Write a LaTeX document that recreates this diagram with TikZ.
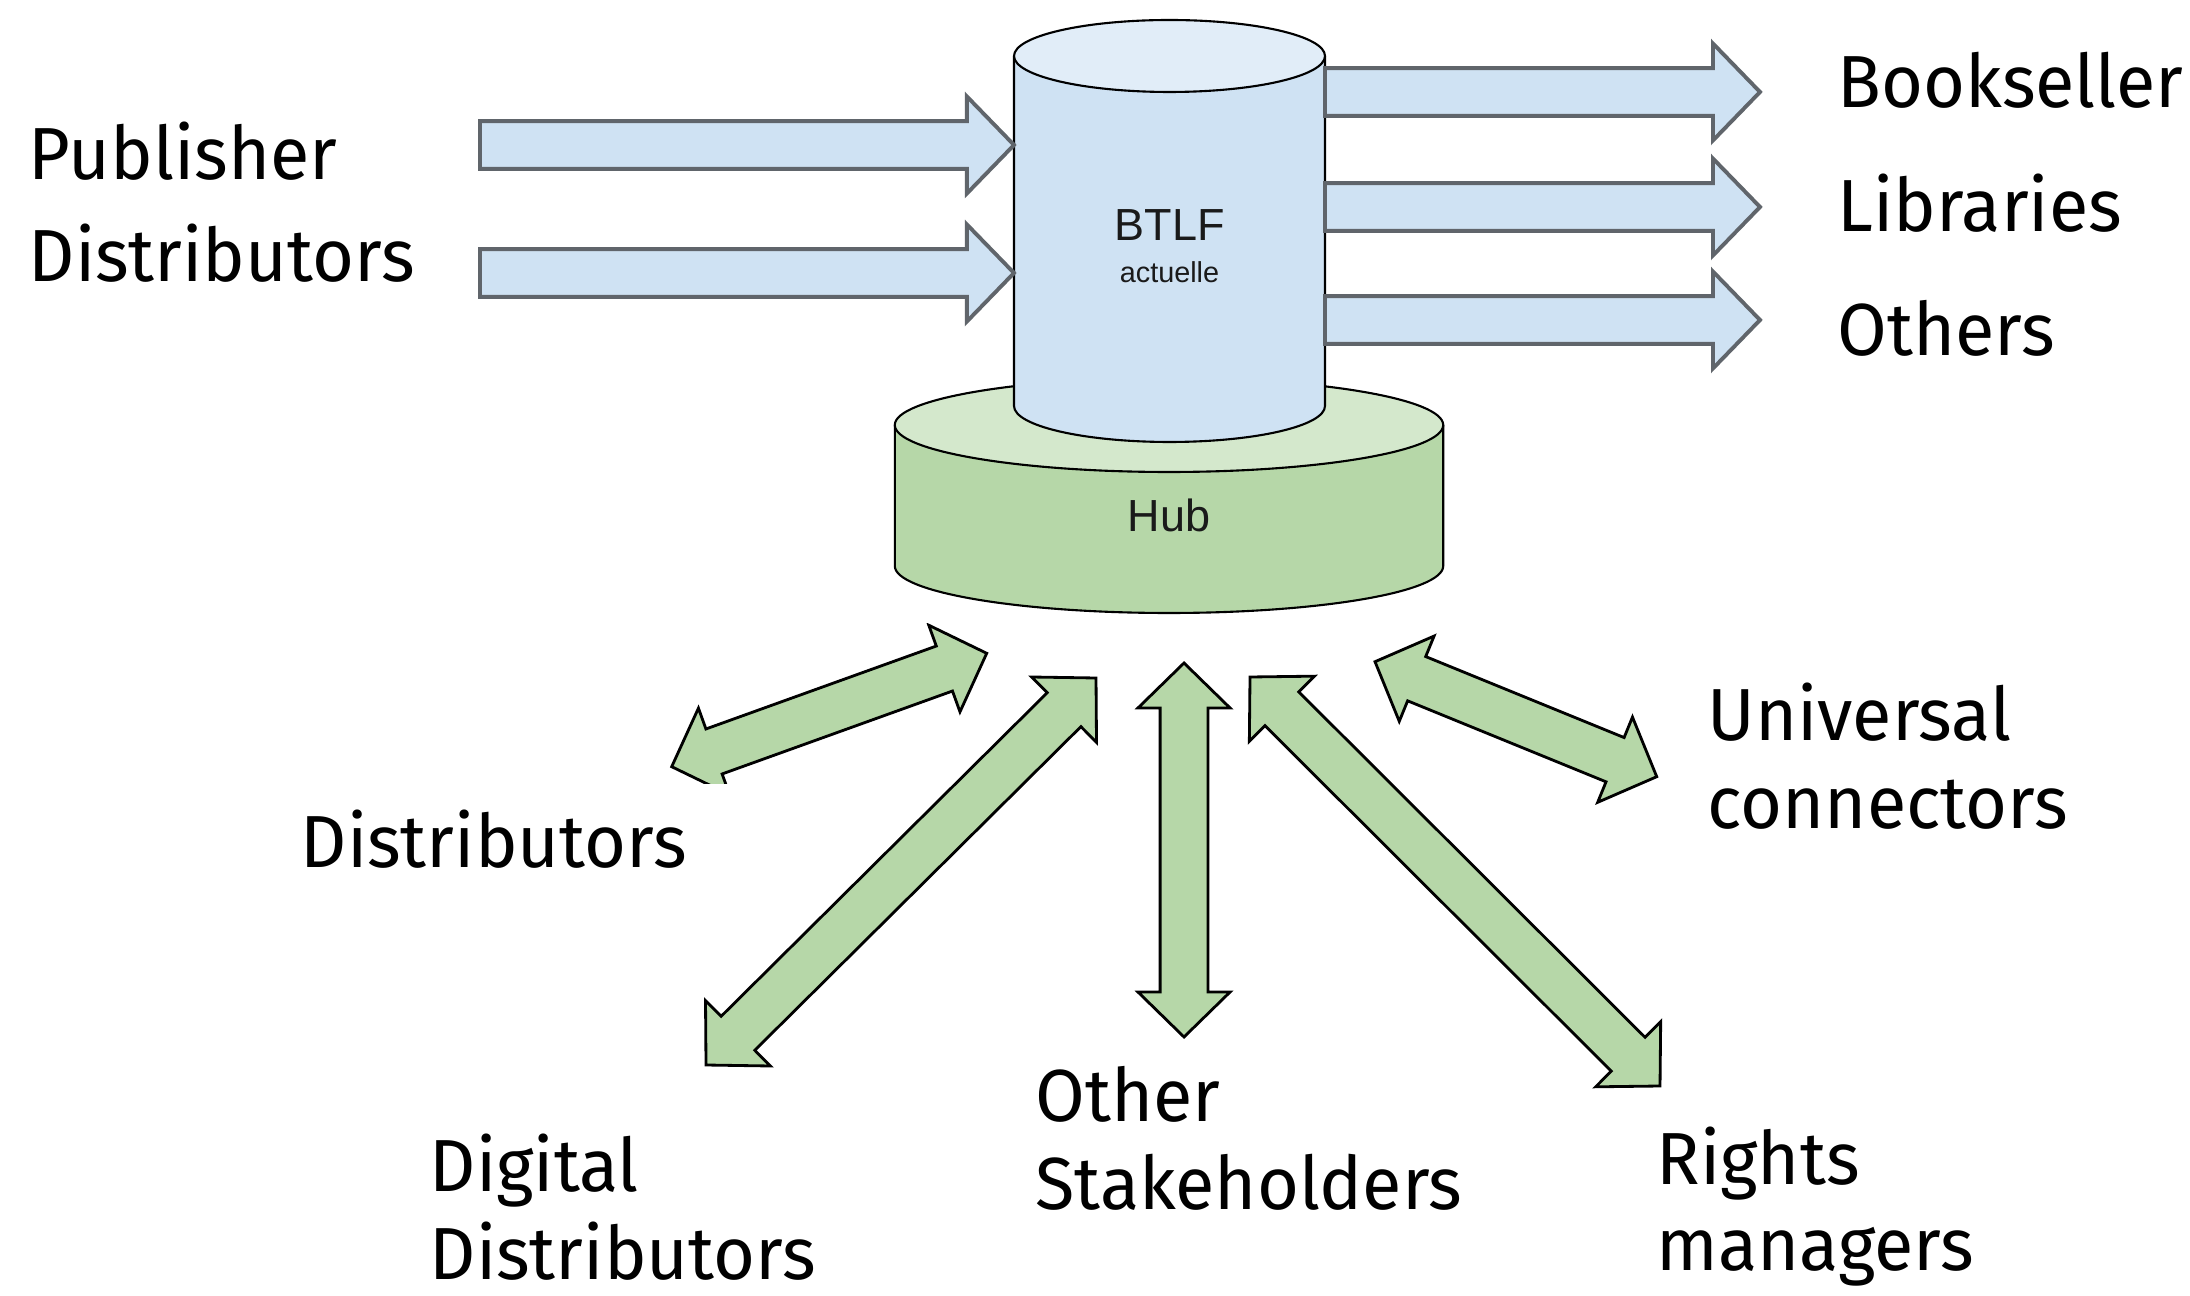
\documentclass[tikz,border=0pt]{standalone}
\usepackage{fontspec}
\setmainfont{Liberation Sans}
\newfontfamily\labelfont[FakeStretch=0.975]{Fira Sans}
\usetikzlibrary{calc}

\definecolor{boxblue}{HTML}{CFE2F3}
\definecolor{topblue}{HTML}{E1EDF8}
\definecolor{hubgreen}{HTML}{B6D7A8}
\definecolor{topgreen}{HTML}{D4E8CC}
\definecolor{edgegray}{HTML}{60656B}
\definecolor{inktext}{HTML}{1A1A1A}

% block arrow sizes
\def\bhl{13.4pt}\def\bhw{13.8pt}\def\bsw{6.8pt}
\def\ghl{12.8pt}\def\ghw{13.1pt}\def\gsw{6.8pt}

% single block arrow from tail #2 to tip #3
\newcommand\blockarrow[3]{%
  \path ($(#3)!\bhl!(#2)$) coordinate (hb);
  \draw[#1] ($(#2)!\bsw!90:(#3)$) -- ($(hb)!\bsw!90:(#3)$) -- ($(hb)!\bhw!90:(#3)$)
    -- (#3) -- ($(hb)!\bhw!-90:(#3)$) -- ($(hb)!\bsw!-90:(#3)$)
    -- ($(#2)!\bsw!-90:(#3)$) -- cycle;
}
% double block arrow between #2 and #3
\newcommand\dblarrow[3]{%
  \path ($(#2)!\ghl!(#3)$) coordinate (ha) ($(#3)!\ghl!(#2)$) coordinate (hb);
  \draw[#1] (#2) -- ($(ha)!\ghw!-90:(#2)$) -- ($(ha)!\gsw!-90:(#2)$)
    -- ($(hb)!\gsw!90:(#3)$) -- ($(hb)!\ghw!90:(#3)$) -- (#3)
    -- ($(hb)!\ghw!-90:(#3)$) -- ($(hb)!\gsw!-90:(#3)$)
    -- ($(ha)!\gsw!90:(#2)$) -- ($(ha)!\ghw!90:(#2)$) -- cycle;
}

\begin{document}
\begin{tikzpicture}[x=0.1mm,y=-0.1mm,
  lbl/.style={font=\labelfont\fontsize{21}{25}\selectfont, anchor=base west, inner sep=0pt},
  drumtext/.style={font=\fontsize{12.8}{14}\selectfont, text=inktext, anchor=base, inner sep=0pt},
  subtext/.style={font=\fontsize{8.2}{9}\selectfont, text=inktext, anchor=base, inner sep=0pt},
  bluearrow/.style={fill=boxblue, draw=edgegray, line width=1.1pt, line join=miter},
  greenarrow/.style={fill=hubgreen, draw=black, line width=0.8pt, line join=miter},
  drumline/.style={draw=black, line width=0.6pt},
  ghost/.style={inner sep=0pt, outer sep=0pt}]

\fill[white] (0,0) rectangle (2190,1296);
\useasboundingbox (0,0) rectangle (2190,1296);

% hub drum
\node[ghost, minimum width=54.84mm, minimum height=14.1mm] (hub) at (1169,495.5) {};
\fill[hubgreen] (hub.north west) -- (hub.south west)
  arc[start angle=180, end angle=360, x radius=78.02pt, y radius=13.37pt] -- (hub.north east) -- cycle;
\draw[drumline] (hub.north west) -- (hub.south west)
  arc[start angle=180, end angle=360, x radius=78.02pt, y radius=13.37pt] -- (hub.north east);
\draw[drumline, fill=topgreen] (hub.north) ellipse[x radius=78.02pt, y radius=13.37pt];

% BTLF drum
\node[ghost, minimum width=31.1mm, minimum height=35mm] (btlf) at (1169.5,231) {};
\fill[boxblue] (btlf.north west) -- (btlf.south west)
  arc[start angle=180, end angle=360, x radius=44.24pt, y radius=10.24pt] -- (btlf.north east) -- cycle;
\draw[drumline] (btlf.north west) -- (btlf.south west)
  arc[start angle=180, end angle=360, x radius=44.24pt, y radius=10.24pt] -- (btlf.north east);
\draw[drumline, fill=topblue] (btlf.north) ellipse[x radius=44.24pt, y radius=10.24pt];

\node[drumtext] (btlfname) at (1169.5,241) {BTLF};
\node[subtext] (btlfsub) at (1169.5,283) {actuelle};
\node[drumtext] (hubname) at (1169,532) {Hub};

% incoming feeds
\node[lbl] (pub) at (28,180) {Publisher};
\node[lbl] (pubdist) at (28,282) {Distributors};
\coordinate (feedA) at (480,145);
\coordinate (feedB) at (480,273);
\blockarrow{bluearrow}{feedA}{feedA -| btlf.west}
\blockarrow{bluearrow}{feedB}{feedB -| btlf.west}

% outgoing feeds
\node[lbl] (book) at (1837,108) {Bookseller};
\node[lbl] (lib) at (1837,232) {Libraries};
\node[lbl] (oth) at (1837,356) {Others};
\coordinate (outA) at (1760,92);
\coordinate (outB) at (1760,207);
\coordinate (outC) at (1760,320);
\blockarrow{bluearrow}{outA -| btlf.east}{outA}
\blockarrow{bluearrow}{outB -| btlf.east}{outB}
\blockarrow{bluearrow}{outC -| btlf.east}{outC}

% exchanges with the hub
\node[lbl] (dist) at (300,867) {Distributors};
\node[lbl] (digi1) at (429,1191) {Digital};
\node[lbl] (digi2) at (429,1279) {Distributors};
\node[lbl] (stake1) at (1035,1121) {Other};
\node[lbl] (stake2) at (1035,1209) {Stakeholders};
\node[lbl] (rights1) at (1656,1184) {Rights};
\node[lbl] (rights2) at (1656,1270) {managers};
\node[lbl] (univ1) at (1707,740) {Universal};
\node[lbl] (univ2) at (1707,828) {connectors};

\coordinate (distHub) at (986.7,653.3);
\coordinate (distEnd) at (671.7,766.7);
\coordinate (digiHub) at (1096,678);
\coordinate (digiEnd) at (706,1065);
\coordinate (stakeHub) at (1184,663);
\coordinate (stakeEnd) at (1184,1037);
\coordinate (rightsHub) at (1250,677);
\coordinate (rightsEnd) at (1660,1086);
\coordinate (univHub) at (1375,661.7);
\coordinate (univEnd) at (1656.7,776.7);

\begin{scope}
  \clip (640,624) rectangle (1010,783);
  \dblarrow{greenarrow}{distHub}{distEnd}
\end{scope}
\dblarrow{greenarrow}{digiHub}{digiEnd}
\dblarrow{greenarrow}{stakeHub}{stakeEnd}
\dblarrow{greenarrow}{rightsHub}{rightsEnd}
\dblarrow{greenarrow}{univHub}{univEnd}

\end{tikzpicture}
\end{document}
